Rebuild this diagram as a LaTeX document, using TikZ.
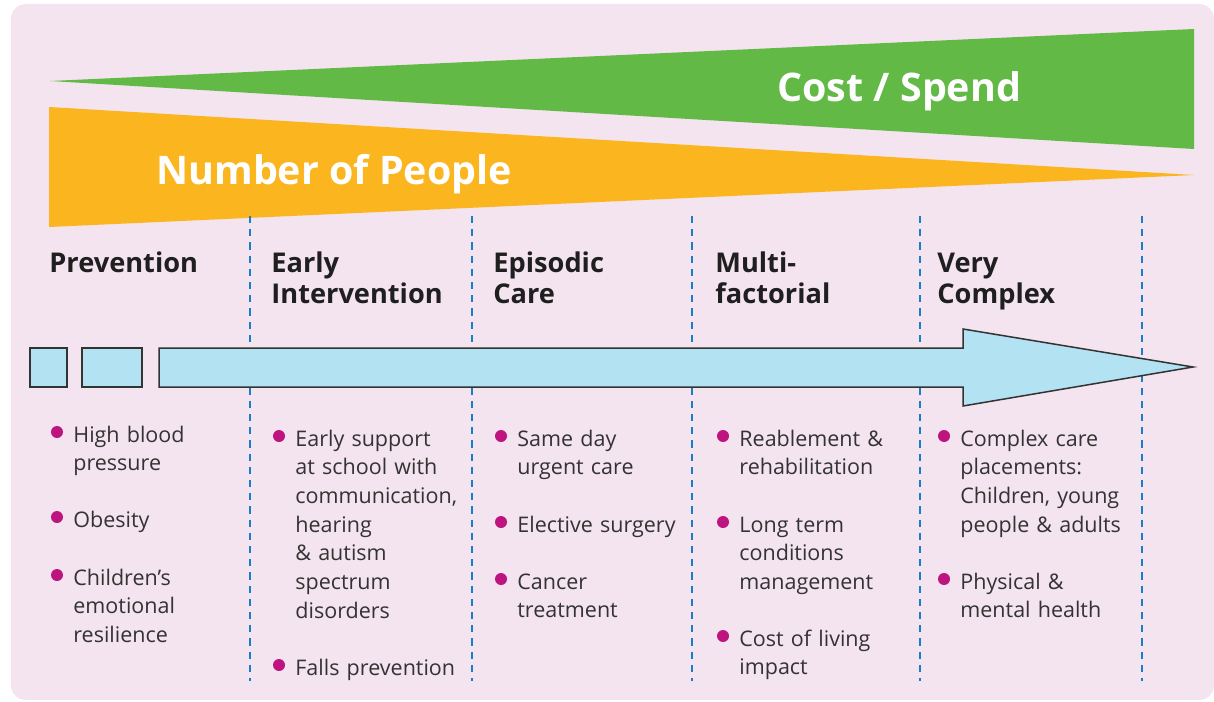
\documentclass[tikz,border=0pt]{standalone}
\usepackage{fontspec}
\setmainfont{Open Sans}
\definecolor{bgpink}{HTML}{F4E4EF}
\definecolor{costgreen}{HTML}{62B946}
\definecolor{peopleorange}{HTML}{FBB51F}
\definecolor{flowblue}{HTML}{B3E2F2}
\definecolor{sepblue}{HTML}{1B7DC4}
\definecolor{dotpink}{HTML}{BE1480}
\definecolor{bodygray}{HTML}{333333}
\begin{document}
\begin{tikzpicture}[x=0.5pt,y=-0.5pt,
    title/.style={anchor=base west,inner sep=0pt,text=white,
      font=\fontsize{19.7}{23}\selectfont\bfseries},
    stage/.style={anchor=base west,inner sep=0pt,align=left,text width=95pt,
      text=black!88,font=\fontsize{13.6}{15.5}\selectfont\bfseries},
    item/.style={anchor=base west,inner sep=0pt,align=left,text width=88pt,
      text=bodygray,font=\fontsize{10.75}{14.35}\selectfont},
    flow/.style={fill=flowblue,draw=black!80,line width=0.75pt},
    sep/.style={sepblue,line width=1.4pt,dash pattern=on 3.6pt off 3pt}]
  \fill[white] (0,0) rectangle (1214,701);
  \fill[bgpink,rounded corners=7.5pt] (1214,4) -- (11,4) -- (11,700) -- (1214,700) -- cycle;
  % wedges
  \fill[costgreen] (50,81) -- (1194,29) -- (1194,149) -- cycle;
  \fill[peopleorange] (49,107) -- (1194,175) -- (49,227) -- cycle;
  \node[title] (cost) at (777,102) {Cost / Spend};
  \node[title] (people) at (156,184) {Number of People};
  % column separators
  \foreach \x in {250,472,692,920,1142}
    \draw[sep] (\x,216) -- (\x,681);
  % flow arrow
  \draw[flow] (30,348) rectangle (67,387);
  \draw[flow] (82,348) rectangle (142,387);
  \draw[flow] (159,348) -- (963,348) -- (963,329) -- (1193,367)
    -- (963,406) -- (963,387) -- (159,387) -- cycle;
  % stages
  \draw
    (49,272) node[stage] (prev) {Prevention}
    (271,272) node[stage] (early) {Early\\Intervention}
    (493,272) node[stage] (epis) {Episodic\\Care}
    (715,272) node[stage] (multi) {Multi-\\factorial}
    (937,272) node[stage] (cplx) {Very\\Complex};
  % bullet items
  \foreach \x/\y/\n/\t in {
      73/442/hbp/{High blood\\pressure},
      73/527/obes/{Obesity},
      73/585/resil/{Children’s\\emotional\\resilience},
      295/446/school/{Early support\\at school with\\communication,\\hearing\\\& autism\\spectrum\\disorders},
      295/675/falls/{Falls prevention},
      517/446/urgent/{Same day\\urgent care},
      517/532/surg/{Elective surgery},
      517/589/cancer/{Cancer\\treatment},
      739/446/reab/{Reablement \&\\rehabilitation},
      739/532/ltc/{Long term\\conditions\\management},
      739/646/living/{Cost of living\\impact},
      960/446/place/{Complex care\\placements:\\Children, young\\people \& adults},
      960/589/health/{Physical \&\\mental health}} {
    \node[item] (\n) at (\x,\y) {\t};
    \fill[dotpink] (\n.base west) ++(-16,-10) circle (6);
  }
\end{tikzpicture}
\end{document}
